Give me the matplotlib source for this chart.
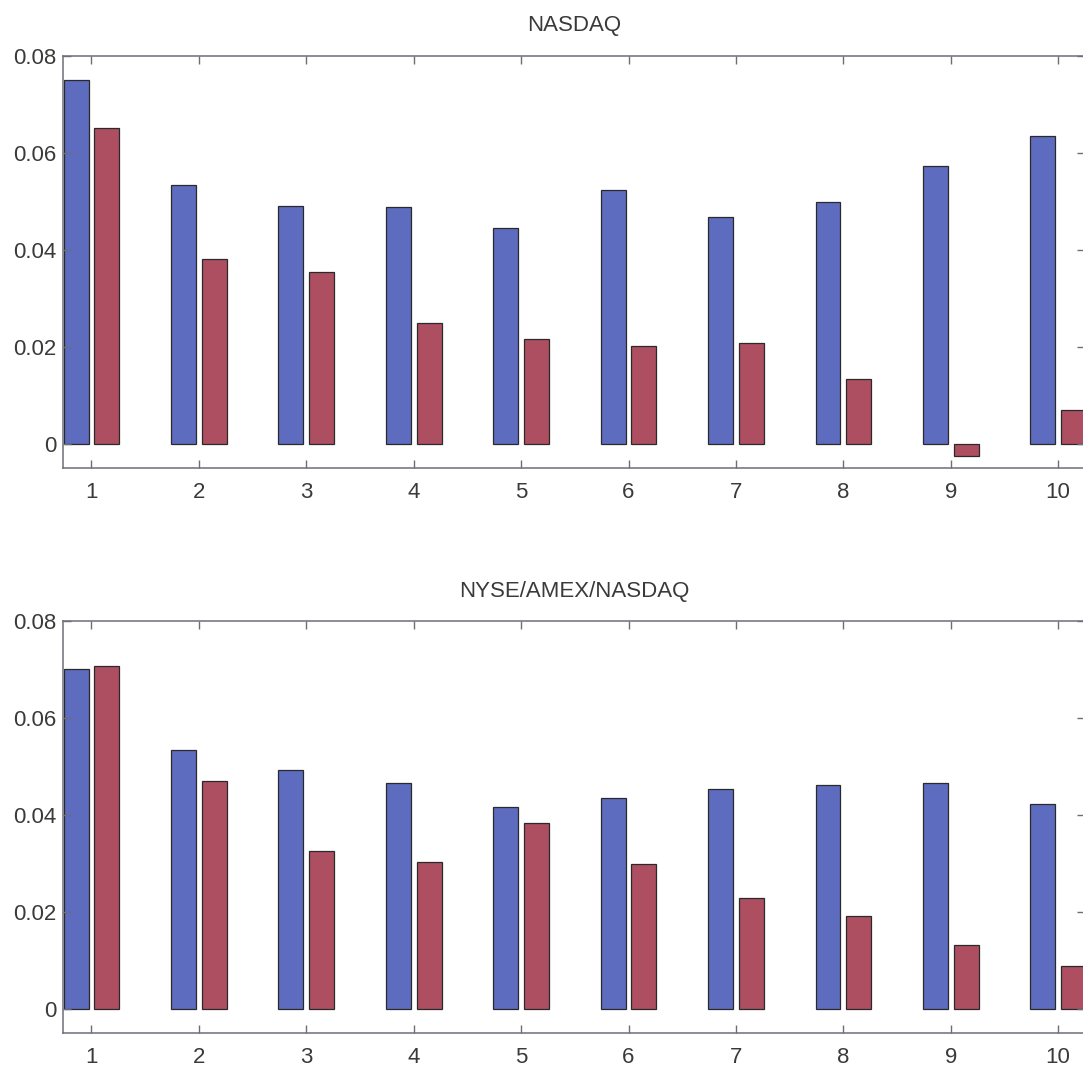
import matplotlib.pyplot as plt
import numpy as np

# deciles 1..10
deciles = np.arange(1, 11)
tick_labels = ['1', '2', '3', '4', '5', '6', '7', '8', '9', '10']

# NASDAQ panel
nasdaq_blue = [0.0751, 0.0534, 0.0491, 0.0488, 0.0446, 0.0524, 0.0467, 0.0498, 0.0573, 0.0635]
nasdaq_red = [0.0651, 0.0381, 0.0354, 0.0249, 0.0216, 0.0201, 0.0208, 0.0134, -0.0025, 0.0070]

# NYSE/AMEX/NASDAQ panel
all_blue = [0.0701, 0.0534, 0.0492, 0.0466, 0.0417, 0.0435, 0.0454, 0.0461, 0.0465, 0.0422]
all_red = [0.0707, 0.0470, 0.0326, 0.0302, 0.0384, 0.0299, 0.0228, 0.0191, 0.0132, 0.0088]

titles = ['NASDAQ', 'NYSE/AMEX/NASDAQ']
panels = [(nasdaq_blue, nasdaq_red), (all_blue, all_red)]

plt.rcParams['font.family'] = ['Liberation Sans', 'DejaVu Sans']
text_col = '#3a3a3a'
spine_col = '#6e6e78'
blue = '#5d6cbf'
red = '#ad4f60'

fig = plt.figure(figsize=(10.83, 10.71), dpi=100)
W, H = 1083.0, 1071.0
# axes boxes in pixels: (left, top, right, bottom); right edge runs past the image like the scan
boxes = [(63, 56, 1085, 468), (63, 621, 1085, 1033)]
pads = [18, 17]

for (l, t, r, b), title, (bv, rv), pad in zip(boxes, titles, panels, pads):
    ax = fig.add_axes([l / W, 1 - b / H, (r - l) / W, (b - t) / H])
    ax.bar(deciles - 0.143, bv, width=0.232, color=blue, edgecolor='#2a2a2a', linewidth=0.9)
    ax.bar(deciles + 0.143, rv, width=0.232, color=red, edgecolor='#2a2a2a', linewidth=0.9)
    ax.set_xlim(0.735, 10.25)
    ax.set_ylim(-0.005, 0.08)
    ax.set_xticks(deciles)
    ax.set_xticklabels(tick_labels)
    ax.set_yticks([0, 0.02, 0.04, 0.06, 0.08])
    ax.set_yticklabels(['0', '0.02', '0.04', '0.06', '0.08'])
    ax.tick_params(axis='both', direction='in', length=6, width=1.0, color=spine_col,
                   labelsize=16, labelcolor=text_col, top=True, right=True)
    ax.tick_params(axis='x', pad=10)
    ax.tick_params(axis='y', pad=5)
    for s in ax.spines.values():
        s.set_color(spine_col)
        s.set_linewidth(1.1)
    ax.set_title(title, fontsize=16, color=text_col, pad=pad)

plt.savefig('out.png', dpi=100)
